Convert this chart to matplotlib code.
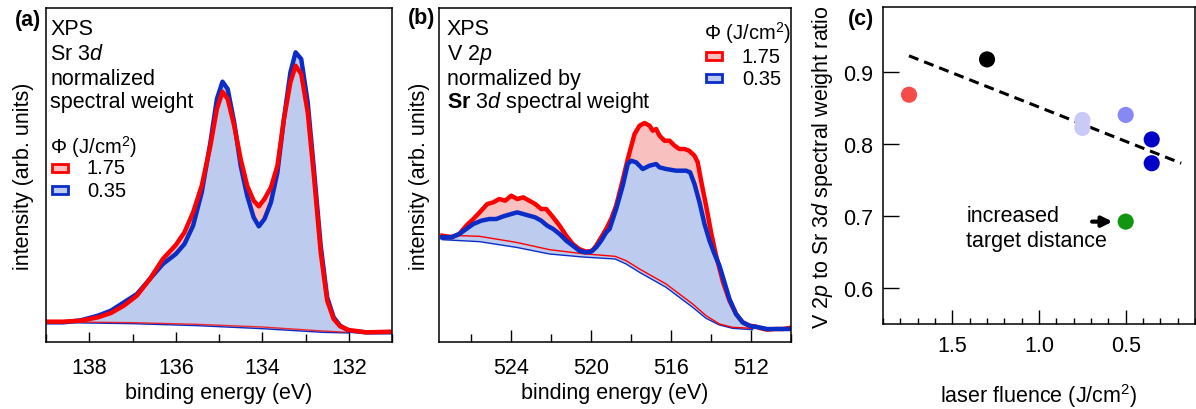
import matplotlib
matplotlib.use("Agg")
import matplotlib.pyplot as plt
from matplotlib.patches import Rectangle
from matplotlib.ticker import MultipleLocator, FixedLocator
import numpy as np

plt.rcParams['font.family'] = ['Liberation Sans', 'DejaVu Sans']
plt.rcParams['mathtext.fontset'] = 'custom'
plt.rcParams['mathtext.rm'] = 'Liberation Sans'
plt.rcParams['mathtext.it'] = 'Liberation Sans:italic'
plt.rcParams['mathtext.bf'] = 'Liberation Sans:bold'
plt.rcParams['font.size'] = 15.5

RED = '#ff0000'
BLUE = '#0a2dc8'
RED_FILL = '#f9c0c0'
BLUE_FILL = '#bccbee'

# ---- (a) Sr 3d, normalized spectral weight ----
a_energy = np.array([139.0, 138.6, 138.2, 137.8, 137.5, 137.2, 136.9, 136.6, 136.3, 136.0,
                     135.8, 135.6, 135.4, 135.2, 135.05, 134.92, 134.8, 134.65, 134.5, 134.35,
                     134.2, 134.08, 133.95, 133.8, 133.65, 133.5, 133.35, 133.23, 133.1, 132.95,
                     132.8, 132.65, 132.5, 132.35, 132.2, 132.0, 131.6, 131.0])
a_red = np.array([6.2, 6.2, 6.5, 7.5, 8.8, 11.0, 14.0, 19.0, 25.0, 29.2,
                  33.0, 39.0, 47.0, 59.0, 70.0, 75.2, 73.0, 65.0, 55.0, 47.0,
                  42.5, 40.8, 43.0, 46.5, 53.0, 67.0, 78.0, 83.0, 80.5, 69.0,
                  49.0, 27.0, 12.5, 7.0, 4.8, 3.7, 3.0, 3.2])
a_blue = np.array([6.0, 6.0, 6.6, 8.0, 9.5, 12.0, 14.5, 19.0, 23.5, 26.5,
                   29.5, 35.0, 45.0, 60.0, 73.0, 78.2, 76.0, 66.0, 53.0, 44.0,
                   37.5, 34.8, 37.0, 42.0, 51.0, 67.0, 81.0, 87.0, 85.0, 72.0,
                   51.0, 29.0, 13.5, 7.5, 5.0, 3.5, 3.0, 3.0])
a_bg_energy = np.array([139.0, 137.0, 135.5, 134.0, 132.6, 132.0])
a_bg_red = np.array([6.2, 5.9, 5.4, 4.6, 3.4, 3.0])
a_bg_blue = np.array([6.0, 5.6, 5.0, 4.1, 3.0, 2.8])

# ---- (b) V 2p, normalized by Sr 3d spectral weight ----
b_red_energy = np.array([527.45, 527.0, 526.6, 526.25, 525.9, 525.58, 525.2, 524.9, 524.6, 524.3,
                         524.0, 523.7, 523.4, 523.1, 522.8, 522.5, 522.25, 521.9, 521.58, 521.25,
                         520.92, 520.6, 520.25, 519.95, 519.75, 519.5, 519.25, 519.0, 518.75, 518.45,
                         518.17, 517.83, 517.58, 517.33, 517.08, 516.92, 516.75, 516.58, 516.33, 516.08,
                         515.83, 515.58, 515.33, 515.1, 514.83, 514.67, 514.5, 514.25, 514.0, 513.75,
                         513.4, 513.08, 512.75, 512.42, 512.1, 511.8, 511.5, 511.2, 510.8, 510.4, 510.1])
b_red = np.array([32.0, 31.5, 32.5, 35.0, 37.0, 39.0, 41.5, 42.0, 43.0, 42.5,
                  44.0, 43.0, 43.5, 42.5, 41.5, 40.0, 40.0, 37.5, 35.0, 32.0,
                  29.5, 28.0, 27.2, 27.5, 29.0, 31.5, 34.0, 37.0, 41.0, 48.0,
                  55.0, 62.5, 65.0, 65.8, 65.0, 63.5, 64.0, 62.0, 60.5, 60.5,
                  59.0, 58.0, 58.0, 57.5, 56.0, 54.0, 48.5, 41.0, 33.0, 26.0,
                  18.0, 12.5, 8.5, 6.0, 5.0, 4.8, 4.2, 3.8, 4.0, 4.0, 4.3])
b_blue_energy = np.array([527.45, 527.0, 526.6, 526.25, 525.9, 525.5, 525.1, 524.75, 524.4, 524.0,
                          523.7, 523.4, 523.1, 522.8, 522.5, 522.2, 521.9, 521.58, 521.25, 520.92,
                          520.6, 520.3, 520.0, 519.75, 519.5, 519.25, 519.08, 518.75, 518.42, 518.17,
                          518.0, 517.75, 517.42, 517.08, 516.75, 516.58, 516.25, 515.75, 515.25, 515.05,
                          514.83, 514.58, 514.33, 514.08, 513.83, 513.58, 513.33, 513.08, 512.75, 512.42,
                          512.0, 511.6, 511.2, 510.8, 510.4, 510.1])
b_blue = np.array([31.5, 31.5, 32.5, 34.0, 35.5, 36.5, 37.0, 37.0, 37.8, 38.5,
                   39.0, 38.5, 38.0, 37.5, 36.5, 35.0, 34.0, 32.5, 30.5, 29.0,
                   27.5, 27.0, 27.2, 28.5, 30.5, 33.0, 34.0, 40.0, 47.0, 53.5,
                   54.5, 54.0, 52.0, 53.0, 53.5, 52.5, 52.0, 51.5, 51.5, 51.0,
                   47.5, 42.0, 35.5, 30.5, 26.5, 23.0, 18.0, 13.0, 8.5, 6.0,
                   4.8, 4.5, 4.0, 4.0, 4.0, 4.0])
b_bg_energy = np.array([527.45, 525.58, 523.75, 522.08, 520.42, 518.8, 518.25, 517.58,
                        516.25, 514.92, 514.25, 513.58, 512.92, 511.92])
b_bg_red = np.array([32.2, 31.8, 30.0, 27.8, 26.6, 25.8, 24.5, 22.0, 17.5, 11.5, 8.0, 5.5, 4.5, 4.2])
b_bg_blue = np.array([30.8, 30.2, 28.5, 26.5, 25.6, 25.0, 23.5, 21.0, 16.5, 10.5, 7.2, 5.2, 4.2, 3.8])

# ---- (c) spectral weight ratio vs fluence ----
c_fluence = [1.75, 1.3, 0.75, 0.75, 0.5, 0.35, 0.35, 0.5]
c_ratio = [0.868, 0.917, 0.833, 0.822, 0.840, 0.806, 0.773, 0.692]
c_colors = ['#f64b4b', '#000000', '#cacaf6', '#cacaf6', '#8888f4', '#0000c8', '#0000c8', '#119611']
fit_fluence = [1.75, 0.18]
fit_ratio = [0.922, 0.773]

fig = plt.figure(figsize=(11.96, 4.10), dpi=100)
axa = fig.add_axes([0.0385, 0.1634, 0.2893, 0.8146])
axb = fig.add_axes([0.3673, 0.1634, 0.2941, 0.8146])
axc = fig.add_axes([0.7383, 0.2073, 0.2609, 0.7720])


def fill_area(ax, e, y, bg_e, bg_y, color):
    m = (e <= bg_e.max()) & (e >= bg_e.min())
    ax.fill(np.r_[e[m], bg_e[::-1]], np.r_[y[m], bg_y[::-1]], color=color, lw=0)


def legend_block(ax, x0, ytitle, yrows, xtext):
    ax.text(x0 - 0.005, ytitle, 'Φ (J/cm$^2$)', transform=ax.transAxes, va='center', ha='left', fontsize=14.5)
    for yc, fc, ec, lab in zip(yrows, [RED_FILL, BLUE_FILL], [RED, BLUE], ['1.75', '0.35']):
        ax.add_patch(Rectangle((x0, yc - 0.012), 0.046, 0.024, transform=ax.transAxes,
                               facecolor=fc, edgecolor=ec, lw=2.0))
        ax.text(xtext, yc, lab, transform=ax.transAxes, va='center', ha='left', fontsize=14.5)


for ax in (axa, axb, axc):
    for s in ax.spines.values():
        s.set_linewidth(1.1)

# panel a
fill_area(axa, a_energy, a_red, a_bg_energy, a_bg_red, RED_FILL)
fill_area(axa, a_energy, a_blue, a_bg_energy, a_bg_blue, BLUE_FILL)
axa.plot(a_bg_energy, a_bg_blue, color=BLUE, lw=1.0)
axa.plot(a_bg_energy, a_bg_red, color=RED, lw=1.0, alpha=0.8)
axa.plot(a_energy, a_blue, color=BLUE, lw=3.2, solid_joinstyle='round')
axa.plot(a_energy, a_red, color=RED, lw=3.2, solid_joinstyle='round')
axa.set_xlim(139, 131)
axa.set_ylim(0.1, 100.3)
axa.set_yticks([])
axa.xaxis.set_major_locator(FixedLocator([138, 136, 134, 132]))
axa.xaxis.set_minor_locator(MultipleLocator(1))
axa.tick_params(axis='x', which='major', direction='in', length=7.5, width=1.0, pad=10.5)
axa.tick_params(axis='x', which='minor', direction='in', length=5.5, width=1.0)
axa.set_xlabel('binding energy (eV)', labelpad=3)
axa.set_ylabel('intensity (arb. units)', labelpad=9)
for t, yb in zip(['XPS', 'Sr 3$d$', 'normalized', 'spectral weight'], [0.922, 0.847, 0.772, 0.703]):
    axa.text(0.012, yb, t, transform=axa.transAxes, va='baseline', ha='left')
legend_block(axa, 0.017, 0.587, [0.521, 0.455], 0.118)

# panel b
fill_area(axb, b_red_energy, b_red, b_bg_energy, b_bg_red, RED_FILL)
fill_area(axb, b_blue_energy, b_blue, b_bg_energy, b_bg_blue, BLUE_FILL)
axb.plot(b_bg_energy, b_bg_blue, color=BLUE, lw=1.0)
axb.plot(b_bg_energy, b_bg_red, color=RED, lw=1.0)
axb.plot(b_red_energy, b_red, color=RED, lw=3.2, solid_joinstyle='round')
axb.plot(b_blue_energy, b_blue, color=BLUE, lw=3.2, solid_joinstyle='round')
axb.set_xlim(527.6, 510.0)
axb.set_ylim(0.1, 100.3)
axb.set_yticks([])
axb.xaxis.set_major_locator(FixedLocator([524, 520, 516, 512]))
axb.xaxis.set_minor_locator(MultipleLocator(2))
axb.tick_params(axis='x', which='major', direction='in', length=8.6, width=1.0, pad=10.5)
axb.tick_params(axis='x', which='minor', direction='in', length=5.8, width=1.0)
axb.set_xlabel('binding energy (eV)', labelpad=3)
axb.set_ylabel('intensity (arb. units)', labelpad=7)
for t, yb in zip(['XPS', 'V 2$p$', 'normalized by', r'$\mathbf{Sr}$ 3$d$ spectral weight'],
                 [0.922, 0.847, 0.772, 0.703]):
    axb.text(0.021, yb, t, transform=axb.transAxes, va='baseline', ha='left')
legend_block(axb, 0.758, 0.928, [0.856, 0.790], 0.860)

# panel c
axc.plot(fit_fluence, fit_ratio, color='black', lw=2.2, dashes=(3.3, 2.0))
axc.scatter(c_fluence, c_ratio, s=135, c=c_colors, edgecolors='none', zorder=3)
axc.annotate('', xy=(0.56, 0.692), xytext=(0.71, 0.692),
             arrowprops=dict(arrowstyle='-|>', color='black', lw=3.0, mutation_scale=15))
axc.text(1.42, 0.683, 'increased\ntarget distance', va='center', ha='left', linespacing=1.25)
axc.set_xlim(1.9, 0.1)
axc.set_ylim(0.55, 0.989)
axc.xaxis.set_major_locator(FixedLocator([1.5, 1.0, 0.5]))
axc.xaxis.set_minor_locator(MultipleLocator(0.1))
axc.xaxis.set_major_formatter(lambda v, p: f'{v:.1f}')
axc.yaxis.set_major_locator(FixedLocator([0.6, 0.7, 0.8, 0.9]))
axc.yaxis.set_major_formatter(lambda v, p: f'{v:.1f}')
axc.tick_params(axis='x', which='major', direction='in', length=10, width=1.0, pad=8)
axc.tick_params(axis='x', which='minor', direction='in', length=4.5, width=1.0)
axc.tick_params(axis='y', which='major', direction='in', length=11.5, width=1.0, pad=7)
axc.set_xlabel('laser fluence (J/cm$^2$)', labelpad=18)
axc.set_ylabel('V 2$p$ to Sr 3$d$ spectral weight ratio', labelpad=6)

fig.text(15 / 1196, 0.951, '(a)', fontweight='bold', va='center', ha='left')
fig.text(408 / 1196, 0.956, '(b)', fontweight='bold', va='center', ha='left')
fig.text(848 / 1196, 0.953, '(c)', fontweight='bold', va='center', ha='left')

fig.savefig('out.png', dpi=100)
